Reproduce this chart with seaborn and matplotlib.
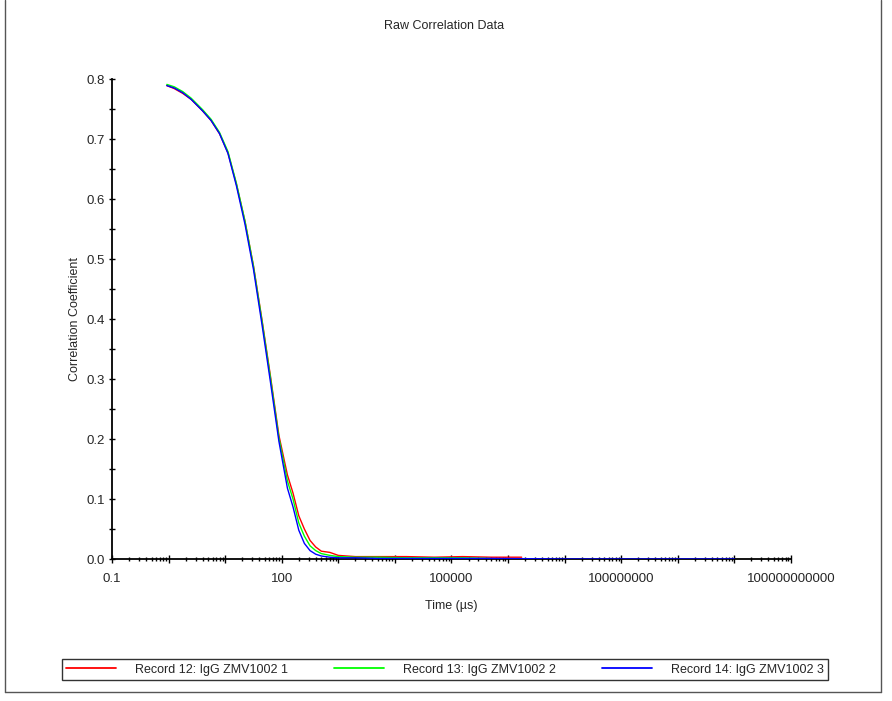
import numpy as np
import pandas as pd
import matplotlib
matplotlib.use("Agg")
import matplotlib.pyplot as plt
import matplotlib.ticker as mticker
from matplotlib.lines import Line2D
import seaborn as sns

# ---- data ----
series_names = ["Record 12: IgG ZMV1002 1",
                "Record 13: IgG ZMV1002 2",
                "Record 14: IgG ZMV1002 3"]
series_colors = ["#ff0000", "#00ff00", "#0000ff"]

# time in microseconds
time_main = [0.93, 1.26, 1.78, 2.51, 3.98, 5.62, 7.94, 11.2, 15.8, 22.4,
             31.6, 44.7, 63.1, 89.1, 126, 158, 200, 251, 316, 398,
             501, 708, 1000, 2000, 5000, 15850, 50120, 158500]
rec12 = [0.789, 0.784, 0.776, 0.766, 0.747, 0.731, 0.709, 0.677, 0.625, 0.563,
         0.489, 0.399, 0.305, 0.206, 0.140, 0.110, 0.072, 0.050, 0.031, 0.020,
         0.013, 0.011, 0.006, 0.004, 0.004, 0.004, 0.003, 0.004]
rec13 = [0.791, 0.787, 0.779, 0.768, 0.749, 0.733, 0.711, 0.679, 0.626, 0.563,
         0.488, 0.397, 0.302, 0.202, 0.130, 0.100, 0.060, 0.038, 0.022, 0.014,
         0.009, 0.006, 0.004, 0.003, 0.003, 0.002, 0.002, 0.002]
rec14 = [0.789, 0.785, 0.777, 0.766, 0.747, 0.731, 0.709, 0.676, 0.622, 0.558,
         0.483, 0.391, 0.295, 0.196, 0.118, 0.087, 0.048, 0.026, 0.014, 0.008,
         0.005, 0.003, 0.002, 0.002, 0.001, 0.001, 0.001, 0.001]
# tails
time_tail12 = [501200, 1738000]
tail12 = [0.003, 0.003]
time_tail13 = [478600]
tail13 = [0.001]
time_tail14 = [501200, 1e7, 1e8, 1e9, 1e10]
tail14 = [0.001, 0.0, 0.0, 0.0, 0.0]

frames = []
for name, t, y in [(series_names[0], time_main + time_tail12, rec12 + tail12),
                   (series_names[1], time_main + time_tail13, rec13 + tail13),
                   (series_names[2], time_main + time_tail14, rec14 + tail14)]:
    frames.append(pd.DataFrame({"Time": t, "Corr": y, "Record": name}))
df = pd.concat(frames, ignore_index=True)

sns.set_style("white")
plt.rcParams["font.family"] = ["Liberation Sans", "DejaVu Sans"]

W, H = 892, 701
fig = plt.figure(figsize=(W / 100, H / 100), dpi=100)
ax = fig.add_axes([112 / W, 1 - 559 / H, (791 - 112) / W, (559 - 79) / H])

sns.lineplot(data=df, x="Time", y="Corr", hue="Record", hue_order=series_names,
             palette=dict(zip(series_names, series_colors)), linewidth=1.0,
             sort=True, estimator=None, ax=ax, legend=False)

ax.set_xscale("log")
ax.set_xlim(0.1, 1e11)
ax.set_ylim(0, 0.8)

for s in ["top", "right"]:
    ax.spines[s].set_visible(False)
for s in ["left", "bottom"]:
    ax.spines[s].set_color("black")
    ax.spines[s].set_linewidth(1.3)
ax.spines["left"].set_zorder(0.5)
ax.spines["bottom"].set_zorder(0.5)

ax.xaxis.set_major_locator(mticker.LogLocator(base=10, numticks=30))
ax.xaxis.set_minor_locator(mticker.LogLocator(base=10, subs=np.arange(2, 10), numticks=30))

def xfmt(v, pos):
    e = int(round(np.log10(v)))
    if (e + 1) % 3 != 0:
        return ""
    return "0.1" if e == -1 else str(int(round(v)))

ax.xaxis.set_major_formatter(mticker.FuncFormatter(xfmt))
ax.xaxis.set_minor_formatter(mticker.NullFormatter())
ax.yaxis.set_major_locator(mticker.MultipleLocator(0.1))
ax.yaxis.set_minor_locator(mticker.MultipleLocator(0.05))
ax.yaxis.set_major_formatter(mticker.FormatStrFormatter("%.1f"))

ax.tick_params(axis="x", which="major", direction="inout", length=5.5, width=1,
               color="black", labelsize=9.5, pad=7, bottom=True)
ax.tick_params(axis="x", which="minor", direction="inout", length=3.2, width=1,
               color="black", bottom=True)
ax.tick_params(axis="y", which="both", direction="inout", length=4.5, width=1,
               color="black", labelsize=9.5, pad=3, left=True)

ax.set_xlabel("Time (µs)", fontsize=9, labelpad=11)
ax.set_ylabel("Correlation Coefficient", fontsize=9, labelpad=4)

fig.text(444 / W, 1 - 26 / H, "Raw Correlation Data", ha="center", va="center",
         fontsize=9)

handles = [Line2D([], [], color=c, linewidth=1.3) for c in series_colors]
leg = fig.legend(handles, series_names, loc="lower left",
                 bbox_to_anchor=(62 / W, 1 - 680 / H, (828 - 62) / W, 22 / H),
                 mode="expand", ncol=3, fontsize=9, frameon=True,
                 fancybox=False, handlelength=4.0, handletextpad=1.5,
                 borderaxespad=0, borderpad=0.35, columnspacing=2.5)
leg.get_frame().set_edgecolor("black")
leg.get_frame().set_linewidth(1.0)

# outer frame of the picture
for xs, ys in [([5 / W, 5 / W], [1 - 692 / H, 1.0]),
               ([881 / W, 881 / W], [1 - 692 / H, 1.0]),
               ([5 / W, 881 / W], [1 - 692 / H, 1 - 692 / H])]:
    fig.add_artist(Line2D(xs, ys, color="#555555", linewidth=1.0,
                          transform=fig.transFigure))

fig.savefig("out.png", dpi=100)
